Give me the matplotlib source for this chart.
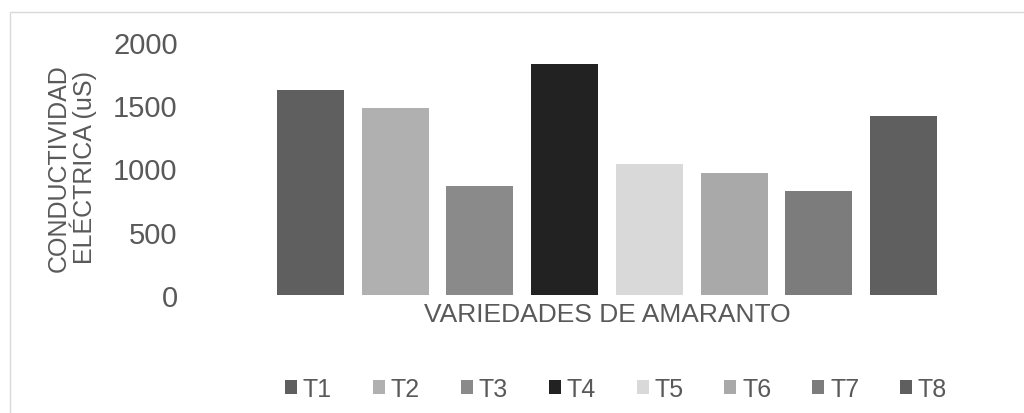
import matplotlib
matplotlib.use("Agg")
import matplotlib.pyplot as plt
from matplotlib.patches import Patch, Rectangle

plt.rcParams['font.family'] = ['Liberation Sans', 'DejaVu Sans']

categories = ["T1", "T2", "T3", "T4", "T5", "T6", "T7", "T8"]
values = [1623, 1478, 859, 1826, 1036, 967, 825, 1413]
colors = ["#5f5f5f", "#b0b0b0", "#8a8a8a", "#222222", "#d9d9d9", "#a9a9a9", "#7c7c7c", "#5f5f5f"]
yticks = [0, 500, 1000, 1500, 2000]
xlabel = "VARIEDADES DE AMARANTO"
ylabel = "CONDUCTIVIDAD\nELÉCTRICA (uS)"

W, H = 1024, 414
fig = plt.figure(figsize=(W / 100, H / 100), dpi=100)
fig.patch.set_facecolor("white")

# chart area border
fig.patches.append(Rectangle((10 / W, -0.1), 1.2, 1 - 12.5 / H + 0.1, transform=fig.transFigure,
                             fill=False, edgecolor="#d9d9d9", linewidth=1.0))

ax = fig.add_axes([268 / W, 1 - 296 / H, (946 - 268) / W, (296 - 43) / H])
x = list(range(len(categories)))
ax.bar(x, values, width=0.79, color=colors)
ax.set_xlim(-0.5, len(categories) - 0.5)
ax.set_ylim(0, 2000)
ax.set_yticks(yticks)
ax.set_yticklabels([str(t) for t in yticks], fontsize=21, color="#595959")
ax.set_xticks([])
ax.tick_params(axis='y', length=0, pad=65)
for s in ax.spines.values():
    s.set_visible(False)
ax.set_facecolor("none")

ax.set_xlabel(xlabel, fontsize=19, color="#595959", labelpad=5)
fig.text(72 / W, 1 - 168 / H, ylabel, rotation=90, ha="center", va="center",
         multialignment="center", fontsize=18, color="#595959", linespacing=0.95)

handles = [Patch(facecolor=c, edgecolor="none") for c in colors]
fig.legend(handles, categories, loc="center", bbox_to_anchor=(616 / W, 1 - 390 / H), ncol=8,
           frameon=False, fontsize=18, labelcolor="#595959", handlelength=0.48, handleheight=0.48,
           handletextpad=0.23, columnspacing=1.64)

fig.savefig("out.png", dpi=100, facecolor="white")
